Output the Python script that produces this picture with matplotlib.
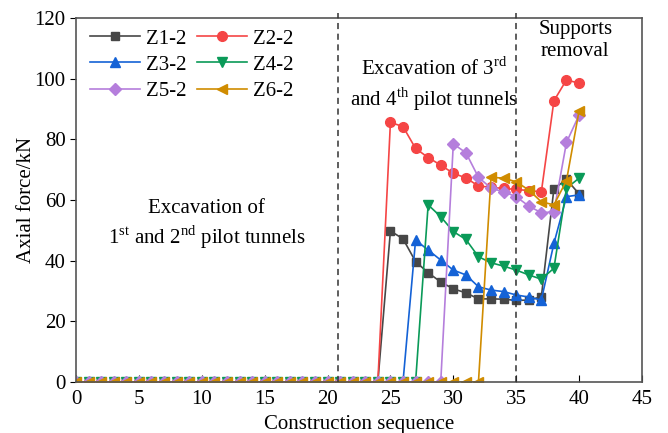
import numpy as np
import matplotlib
matplotlib.use("Agg")
import matplotlib.pyplot as plt

plt.rcParams['font.family'] = ['Liberation Serif', 'DejaVu Serif']
plt.rcParams['mathtext.fontset'] = 'custom'
plt.rcParams['mathtext.rm'] = 'Liberation Serif'

# construction steps 0..40
steps = np.arange(0, 41)

# axial force (kN), zeros before each strut is installed
z1_2 = [0] * 25 + [49.8, 47.2, 39.7, 36.0, 33.0, 30.7, 29.4, 27.4, 27.4, 27.3, 26.9, 27.0, 28.1, 63.7, 66.8, 62.0]
z2_2 = [0] * 25 + [85.6, 84.2, 77.0, 74.0, 71.5, 68.8, 67.3, 64.6, 64.2, 63.8, 63.5, 63.1, 62.7, 92.7, 99.6, 98.5]
z3_2 = [0] * 27 + [46.8, 43.5, 40.2, 36.9, 35.3, 31.4, 30.3, 29.8, 28.7, 28.0, 27.0, 45.7, 61.1, 61.7]
z4_2 = [0] * 28 + [58.4, 54.5, 49.6, 47.0, 41.3, 39.3, 38.2, 36.9, 35.3, 33.9, 37.5, 63.9, 67.2]
z5_2 = [0] * 30 + [78.5, 75.6, 67.5, 63.9, 62.7, 61.1, 58.0, 55.8, 56.1, 79.0, 88.0]
z6_2 = [0] * 33 + [67.5, 67.2, 66.0, 63.3, 59.4, 58.4, 66.4, 89.4]

series = [
    ("Z1-2", z1_2, "#474747", "s", 6),
    ("Z2-2", z2_2, "#F54545", "o", 7),
    ("Z3-2", z3_2, "#1462D6", "^", 7.5),
    ("Z4-2", z4_2, "#0A9A58", "v", 7.5),
    ("Z5-2", z5_2, "#B57EDC", "D", 6),
    ("Z6-2", z6_2, "#D08C00", "<", 7.5),
]

fig = plt.figure(figsize=(6.68, 4.33), dpi=100)
ax = fig.add_axes([0.1138, 0.1178, 0.8472, 0.8406])

handles = []
for name, vals, col, mk, ms in series:
    h, = ax.plot(steps, vals, color=col, marker=mk, markersize=ms, lw=1.2, label=name)
    handles.append(h)

# stage boundaries
for xv in [20.8, 35.0]:
    ax.plot([xv, xv], [0, 121.5], ls=(0, (4, 3)), color="#333333", lw=1.1, clip_on=False, zorder=5)

ax.set_xlim(0, 45)
ax.set_ylim(0, 120)
ax.set_xticks(np.arange(0, 46, 5))
ax.set_yticks(np.arange(0, 121, 20))
ax.tick_params(axis='x', direction='in', length=5, labelsize=15, pad=6)
ax.tick_params(axis='y', direction='out', length=4, labelsize=15)
for sp in ax.spines.values():
    sp.set_color("#555555")
    sp.set_linewidth(1.2)

ax.set_xlabel("Construction sequence", fontsize=15, labelpad=4)
ax.set_ylabel("Axial force/kN", fontsize=15, labelpad=-1)

ax.text(10.4, 51.8, "Excavation of\n1$^{\\rm st}$ and 2$^{\\rm nd}$ pilot tunnels",
        ha="center", va="center", fontsize=15, linespacing=1.25)
ax.text(28.5, 97.8, "Excavation of 3$^{\\rm rd}$\nand 4$^{\\rm th}$ pilot tunnels",
        ha="center", va="center", fontsize=15, linespacing=1.25)
ax.text(39.7, 112.5, "Supports\nremoval", ha="center", va="center", fontsize=15, linespacing=1.2)

# legend filled row by row: Z1 Z2 / Z3 Z4 / Z5 Z6
order = [0, 2, 4, 1, 3, 5]
ax.legend([handles[i] for i in order], [series[i][0] for i in order],
          loc="upper left", bbox_to_anchor=(0.024, 0.97), ncol=2, frameon=False,
          fontsize=15, handlelength=2.4, handletextpad=0.3, columnspacing=0.5,
          labelspacing=0.32, borderpad=0, borderaxespad=0)

plt.savefig("out.png", dpi=100)
